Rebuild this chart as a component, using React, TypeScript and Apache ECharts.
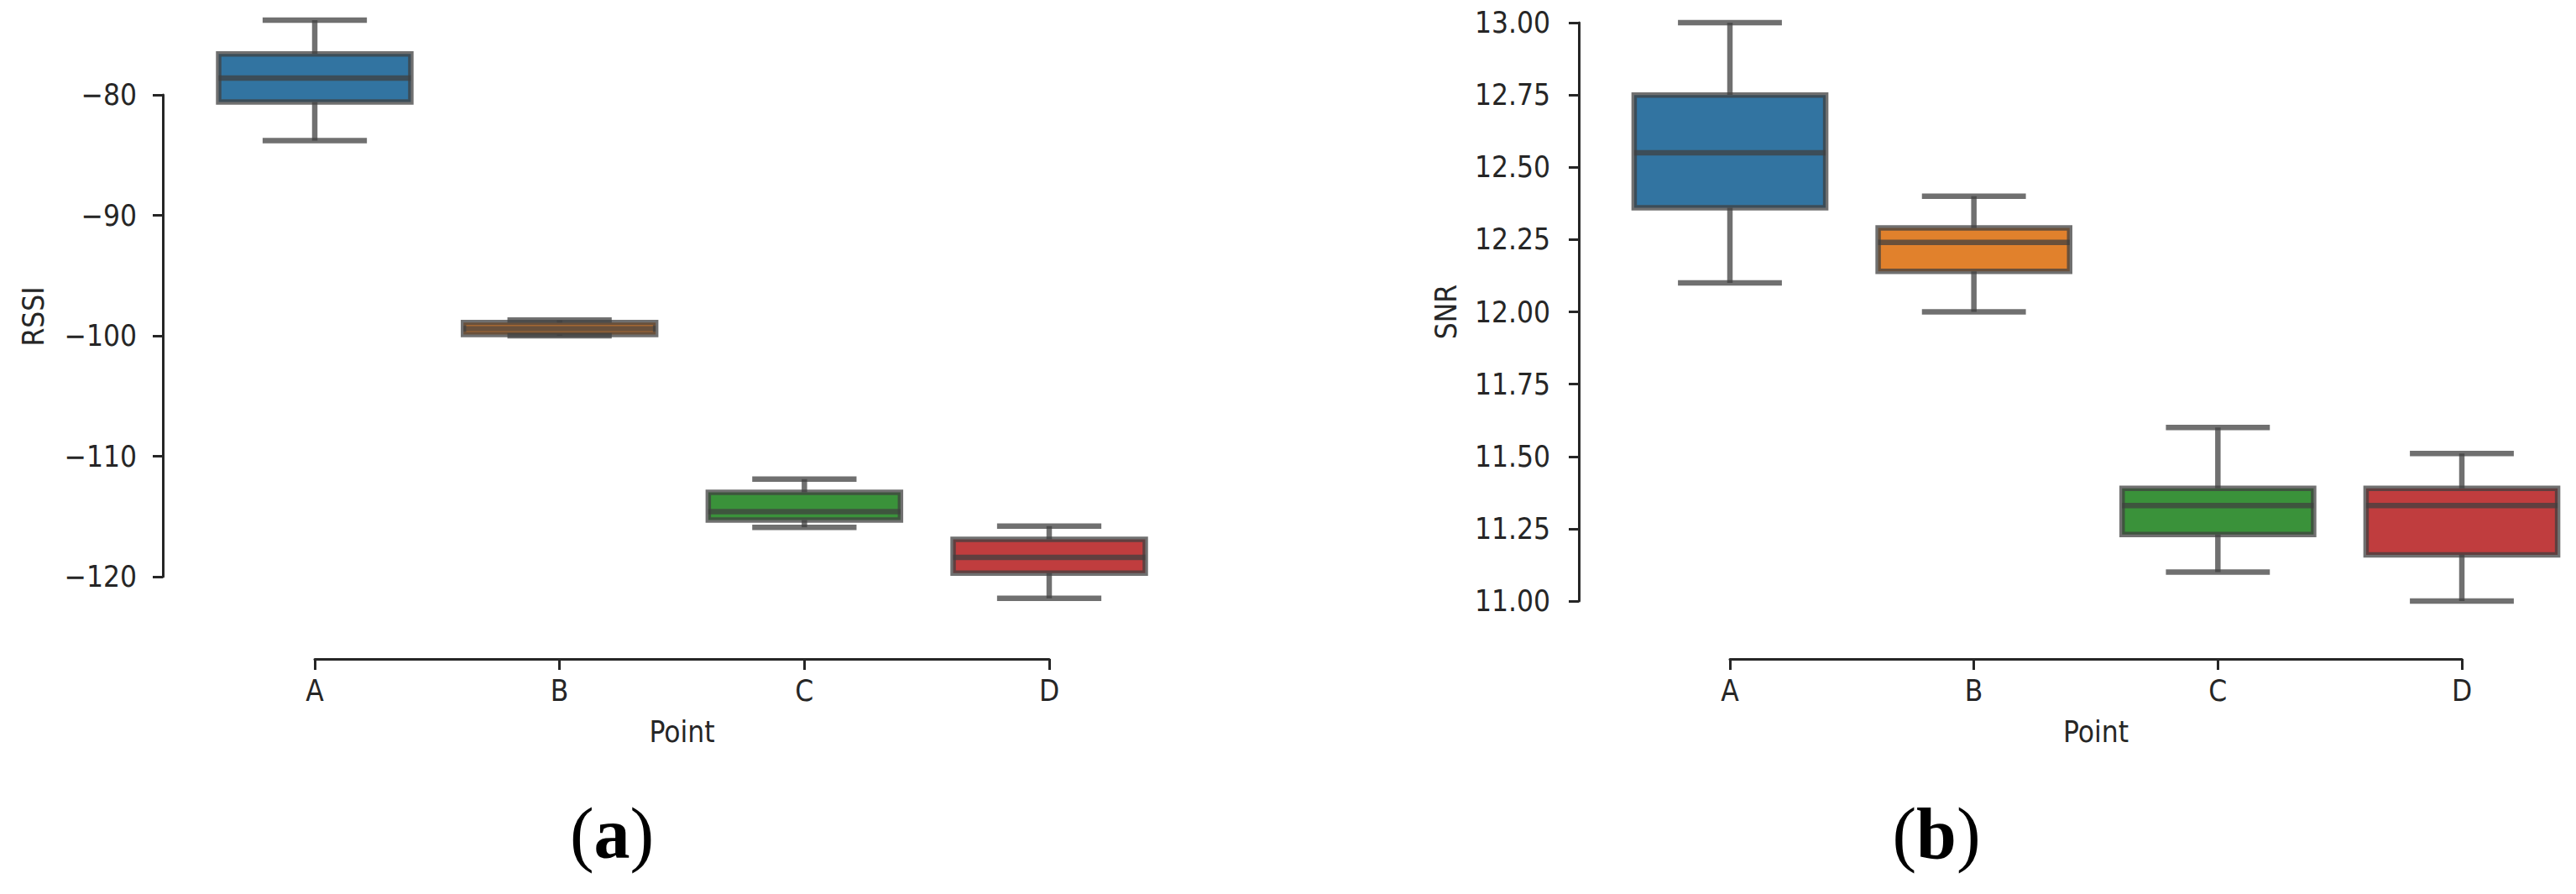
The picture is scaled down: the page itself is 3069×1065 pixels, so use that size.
import React, { useEffect, useRef } from "react";
import * as echarts from "echarts";

const points = ["A", "B", "C", "D"];
const fills = ["#3274a1", "#e1812c", "#3a923a", "#c03d3e"];

// RSSI (left panel)
const rssiMin = [-83.8, -100.0, -115.9, -121.8];
const rssiQ1 = [-80.6, -99.9, -115.3, -119.7];
const rssiMed = [-78.6, -99.4, -114.6, -118.4];
const rssiQ3 = [-76.6, -98.9, -113.0, -116.9];
const rssiMax = [-73.8, -98.7, -111.9, -115.8];
const rssiTicks = { min: -120, max: -80, interval: 10 };

// SNR (right panel)
const snrMin = [12.1, 12.0, 11.1, 11.0];
const snrQ1 = [12.36, 12.14, 11.23, 11.16];
const snrMed = [12.55, 12.24, 11.33, 11.33];
const snrQ3 = [12.75, 12.29, 11.39, 11.39];
const snrMax = [13.0, 12.4, 11.6, 11.51];
const snrTicks = { min: 11, max: 13, interval: 0.25 };

const FONT = "'DejaVu Sans Condensed', 'DejaVu Sans', sans-serif";
const AX = "#262626";
const EDGE = "rgba(64,64,64,0.75)";
const LW = 6.5;

function rows(mn: number[], q1: number[], md: number[], q3: number[], mx: number[]) {
  return points.map((_, i) => [i, mn[i], q1[i], md[i], q3[i], mx[i]]);
}

function renderBox(params: any, api: any) {
  const i = api.value(0);
  const lo = api.coord([i, api.value(1)]);
  const q1 = api.coord([i, api.value(2)]);
  const md = api.coord([i, api.value(3)]);
  const q3 = api.coord([i, api.value(4)]);
  const hi = api.coord([i, api.value(5)]);
  const band = api.size([1, 0])[0];
  const bw = band * 0.785;
  const cw = band * 0.426;
  const cx = q1[0];
  const ls = { stroke: EDGE, lineWidth: LW, fill: null };
  return {
    type: "group",
    children: [
      {
        type: "rect",
        shape: { x: cx - bw / 2, y: q3[1], width: bw, height: q1[1] - q3[1] },
        style: { fill: fills[params.dataIndex], stroke: EDGE, lineWidth: LW },
      },
      { type: "line", shape: { x1: cx, y1: q1[1], x2: cx, y2: lo[1] }, style: ls },
      { type: "line", shape: { x1: cx, y1: q3[1], x2: cx, y2: hi[1] }, style: ls },
      { type: "line", shape: { x1: cx - cw / 2, y1: lo[1], x2: cx + cw / 2, y2: lo[1] }, style: ls },
      { type: "line", shape: { x1: cx - cw / 2, y1: hi[1], x2: cx + cw / 2, y2: hi[1] }, style: ls },
      { type: "line", shape: { x1: cx - bw / 2, y1: md[1], x2: cx + bw / 2, y2: md[1] }, style: ls },
    ],
  };
}

function xAxisOf(gridIndex: number, offset: number) {
  return {
    gridIndex,
    type: "category",
    data: points,
    boundaryGap: false,
    offset,
    axisLine: { lineStyle: { color: AX, width: 3 } },
    axisTick: { length: 13, lineStyle: { color: AX, width: 3 } },
    axisLabel: { margin: 20, fontSize: 35, color: AX, fontFamily: FONT },
    splitLine: { show: false },
    name: "Point",
    nameLocation: "middle",
    nameGap: 69,
    nameTextStyle: { fontSize: 35, color: AX, fontFamily: FONT },
  };
}

function yAxisOf(gridIndex: number, ticks: any, name: string, offset: number, margin: number, gap: number, pad: number[], digits: number) {
  return {
    gridIndex,
    type: "value",
    min: ticks.min,
    max: ticks.max,
    interval: ticks.interval,
    offset,
    axisLine: { show: true, lineStyle: { color: AX, width: 3 } },
    axisTick: { show: true, length: 12, lineStyle: { color: AX, width: 3 } },
    axisLabel: {
      margin,
      fontSize: 35,
      color: AX,
      fontFamily: FONT,
      formatter: (v: number) => (v < 0 ? "\u2212" + Math.abs(v).toFixed(digits) : v.toFixed(digits)),
    },
    splitLine: { show: false },
    name,
    nameLocation: "middle",
    nameGap: gap,
    nameTextStyle: { fontSize: 35, color: AX, fontFamily: FONT, padding: pad },
  };
}

export default function App() {
  const ref = useRef<HTMLDivElement>(null);
  useEffect(() => {
    if (!ref.current) return;
    const chart = echarts.init(ref.current, null, { renderer: "svg" });
    const caption = (label: string, x: number) => ({
      type: "text",
      x,
      y: 993,
      style: {
        text: "{r|(}{b|" + label + "}{r|)}",
        align: "center",
        verticalAlign: "middle",
        fill: "#000",
        fontWeight: "normal",
        rich: {
          r: { fontFamily: "'Liberation Serif', serif", fontSize: 86, fontWeight: "normal", fill: "#000", color: "#000" },
          b: { fontFamily: "'Liberation Serif', serif", fontSize: 86, fontWeight: "bold", fill: "#000", color: "#000" },
        },
      },
    });
    chart.setOption({
      animation: false,
      backgroundColor: "#ffffff",
      grid: [
        { left: 375, top: 113, width: 875, height: 574 },
        { left: 2061, top: 27, width: 872, height: 689 },
      ],
      xAxis: [xAxisOf(0, 98), xAxisOf(1, 69)],
      yAxis: [
        yAxisOf(0, rssiTicks, "RSSI", 181, 31, 137, [0, 0, 0, 46], 0),
        yAxisOf(1, snrTicks, "SNR", 180, 34, 141, [0, 0, 0, 0], 2),
      ],
      series: [
        {
          type: "custom",
          xAxisIndex: 0,
          yAxisIndex: 0,
          renderItem: renderBox,
          encode: { x: 0, y: [1, 2, 3, 4, 5] },
          data: rows(rssiMin, rssiQ1, rssiMed, rssiQ3, rssiMax),
          clip: false,
        },
        {
          type: "custom",
          xAxisIndex: 1,
          yAxisIndex: 1,
          renderItem: renderBox,
          encode: { x: 0, y: [1, 2, 3, 4, 5] },
          data: rows(snrMin, snrQ1, snrMed, snrQ3, snrMax),
          clip: false,
        },
      ],
      graphic: [caption("a", 729), caption("b", 2307)],
    });
    return () => chart.dispose();
  }, []);
  return (
    <div
      ref={ref}
      style={{ position: "absolute", left: 0, top: 0, width: 3069, height: 1065, background: "#fff" }}
    />
  );
}
